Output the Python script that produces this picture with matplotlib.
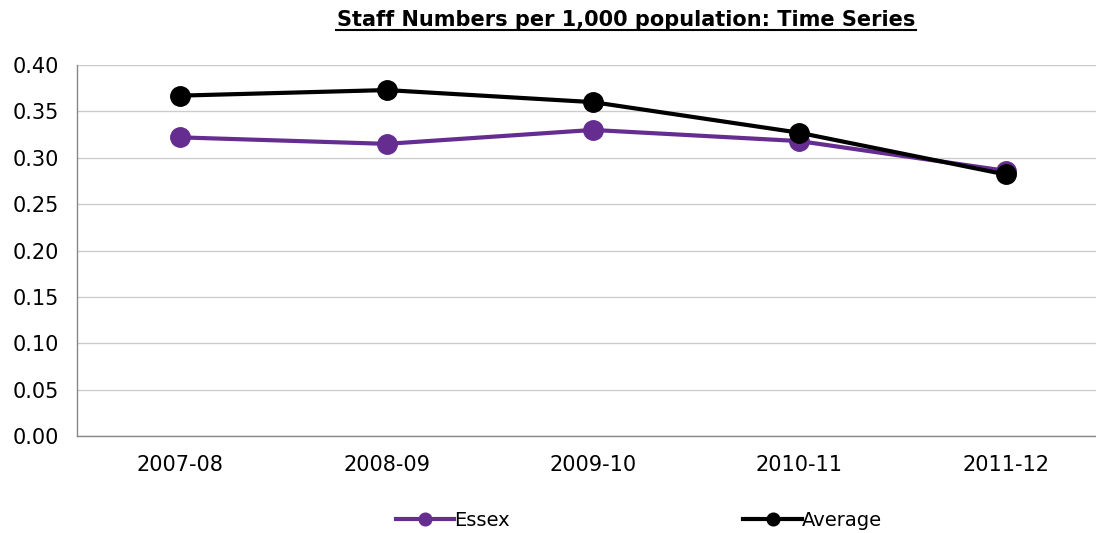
import matplotlib
matplotlib.use("Agg")
import matplotlib.pyplot as plt

years = ["2007-08", "2008-09", "2009-10", "2010-11", "2011-12"]
essex = [0.322, 0.315, 0.330, 0.318, 0.286]
average = [0.367, 0.373, 0.360, 0.327, 0.282]

yticks = [0.00, 0.05, 0.10, 0.15, 0.20, 0.25, 0.30, 0.35, 0.40]

plt.rcParams["font.family"] = ["DejaVu Sans"]

fig = plt.figure(figsize=(10.96, 5.33), dpi=100)
ax = fig.add_axes([0.0703, 0.182, 0.93, 0.696])

x = list(range(len(years)))
ax.plot(x, essex, color="#662D91", lw=3.0, marker="o", ms=14, label="Essex", zorder=3)
ax.plot(x, average, color="black", lw=3.0, marker="o", ms=14, label="Average", zorder=4)

ax.set_xlim(-0.5, 4.44)
ax.set_ylim(0, 0.40)
ax.set_yticks(yticks)
ax.set_yticklabels([f"{v:.2f}" for v in yticks])
ax.set_xticks(x)
ax.set_xticklabels(years)
ax.tick_params(axis="both", length=0, labelsize=15, colors="black")
ax.tick_params(axis="y", pad=13)
ax.tick_params(axis="x", pad=14)
ax.grid(axis="y", color="#CCCCCC", lw=1)
ax.set_axisbelow(True)
for s in ["top", "right"]:
    ax.spines[s].set_visible(False)
for s in ["left", "bottom"]:
    ax.spines[s].set_color("#888888")
    ax.spines[s].set_linewidth(1)

fig.text(0.5715, 0.962, "Staff Numbers per 1,000 population: Time Series",
         ha="center", va="center", fontsize=15, fontweight="bold")
# underline title
fig.lines.append(plt.Line2D([0.307, 0.836], [0.943, 0.943], color="black", lw=1.5,
                            transform=fig.transFigure))

fig.legend(loc="center", bbox_to_anchor=(0.583, 0.023), ncol=2, frameon=False,
           fontsize=14, columnspacing=12.0, handlelength=3.0, handletextpad=0.0,
           markerscale=0.65)

fig.savefig("out.png", dpi=100)
